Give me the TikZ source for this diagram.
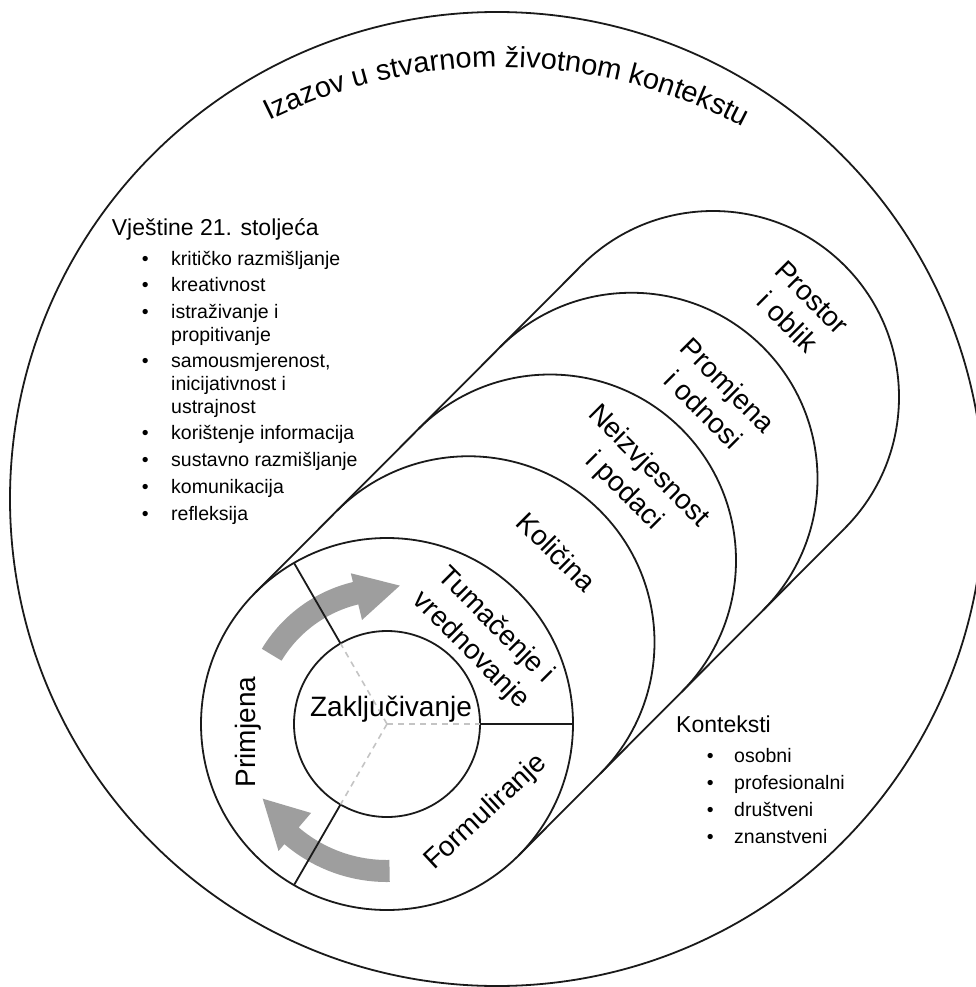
\documentclass[tikz,border=0pt]{standalone}
\usepackage{fontspec}
\setmainfont{Liberation Sans}
\usetikzlibrary{decorations.text}
\definecolor{arrowgray}{HTML}{9E9E9E}
\definecolor{dashgray}{HTML}{C4C4C4}
\definecolor{ink}{HTML}{1A1A1A}
\begin{document}
\begin{tikzpicture}[x=1pt,y=1pt,
  slot/.style={circle, minimum size=372pt, inner sep=0pt, outer sep=0pt},
  ring/.style={circle, draw=ink, line width=1.8pt, fill=white, minimum size=372pt, inner sep=0pt, outer sep=0pt},
  edge/.style={draw=ink, line width=1.8pt},
  dashline/.style={draw=dashgray, line width=1.6pt, dash pattern=on 6pt off 5pt},
  lbl/.style={font=\fontsize{28}{35}\selectfont, align=center, inner sep=0pt},
  head/.style={anchor=base west, inner sep=0pt, font=\fontsize{23}{27}\selectfont},
  bigarrow/.style={fill=arrowgray}
]
\useasboundingbox (0,0) rectangle (975,-987);
\fill[white] (0,0) rectangle (975,-987);

% outer circle
\node[circle, draw=ink, line width=1.8pt, minimum size=974pt, inner sep=0pt, outer sep=0pt] (outer) at (497,-499) {};

% curved title
\path[decorate, decoration={text along path, text align=center,
  text={|\fontsize{29}{30}\selectfont|Izazov u stvarnom životnom kontekstu}}]
  (500,-588) ++(117:521) arc[start angle=117, end angle=61.5, radius=521];

% cylinder: back circles show only their upper-right halves
\node[slot] (c4) at (713,-397) {};
\node[slot] (c3) at (631.5,-478.75) {};
\node[slot] (c2) at (550,-560.5) {};
\node[slot] (c1) at (468.5,-642.25) {};
\draw[edge] (c4.135) arc[start angle=135, end angle=-45, radius=186];
\draw[edge] (c3.135) arc[start angle=135, end angle=-45, radius=186];
\draw[edge] (c2.135) arc[start angle=135, end angle=-45, radius=186];
\draw[edge] (c1.135) arc[start angle=135, end angle=-45, radius=186];
\node[ring] (c0) at (387,-724) {};
\draw[edge] (c0.135) -- (c4.135);
\draw[edge] (c0.-45) -- (c4.-45);

% arrows
\begin{scope}[shift={(c0.center)}]
\path[bigarrow] (149:146) arc[start angle=149, end angle=103.5, radius=146]
  -- (103.5:155) -- (84.7:139) -- (103.5:107) -- (103.5:123)
  arc[start angle=103.5, end angle=149, radius=123] -- cycle;
\path[bigarrow] (271:158) arc[start angle=271, end angle=229.5, radius=158]
  -- (229.5:167) -- (211:145) -- (229.5:117) -- (229.5:136)
  arc[start angle=229.5, end angle=271, radius=136] -- cycle;
\end{scope}

% inner circle and dividers
\node[circle, draw=ink, line width=1.8pt, minimum size=186pt, inner sep=0pt, outer sep=0pt] (ci) at (c0.center) {};
\draw[dashline] (c0.center) -- (ci.0);
\draw[dashline] (c0.center) -- (ci.120);
\draw[dashline] (c0.center) -- (ci.240);
\draw[edge] (ci.0) -- (c0.0);
\draw[edge] (ci.120) -- (c0.120);
\draw[edge] (ci.240) -- (c0.240);

% labels in the cylinder
\node[lbl, rotate=-45] (lprostor) at (800,-310) {Prostor\\i oblik};
\node[lbl, rotate=-45] (lpromjena) at (716,-397) {Promjena\\i odnosi};
\node[lbl, rotate=-45] (lneizv) at (636,-479) {Neizvjesnost\\i podaci};
\node[lbl, rotate=-45] (lkolicina) at (556.7,-551.7) {Količina};
\node[lbl, rotate=-45] (ltumac) at (483,-638) {Tumačenje i\\vrednovanje};
\node[lbl, rotate=43] (lform) at (486,-812.5) {Formuliranje};
\node[lbl, rotate=90] (lprim) at (248,-732) {Primjena};
\node[lbl, anchor=base] (lzak) at (391,-716.7) {Zaključivanje};

% skills list
\node[head] (skillshead) at (111.7,-235) {Vještine 21. stoljeća};
\node[anchor=base west, inner sep=0pt, font=\fontsize{19.5}{22.7}\selectfont] (skills) at (141.7,-265)
{\begin{tabular}[t]{@{}p{29.3pt}@{}l@{}}
•& kritičko razmišljanje\\[4pt]
•& kreativnost\\[4pt]
•& istraživanje i\\
 & propitivanje\\[4pt]
•& samousmjerenost,\\
 & inicijativnost i\\
 & ustrajnost\\[4pt]
•& korištenje informacija\\[4pt]
•& sustavno razmišljanje\\[4pt]
•& komunikacija\\[4pt]
•& refleksija
\end{tabular}};

% contexts list
\node[head] (ctxhead) at (676,-732.7) {Konteksti};
\node[anchor=base west, inner sep=0pt, font=\fontsize{19.5}{26.9}\selectfont] (ctx) at (706.7,-762.7)
{\begin{tabular}[t]{@{}p{27.3pt}@{}l@{}}
•& osobni\\
•& profesionalni\\
•& društveni\\
•& znanstveni
\end{tabular}};
\end{tikzpicture}
\end{document}
